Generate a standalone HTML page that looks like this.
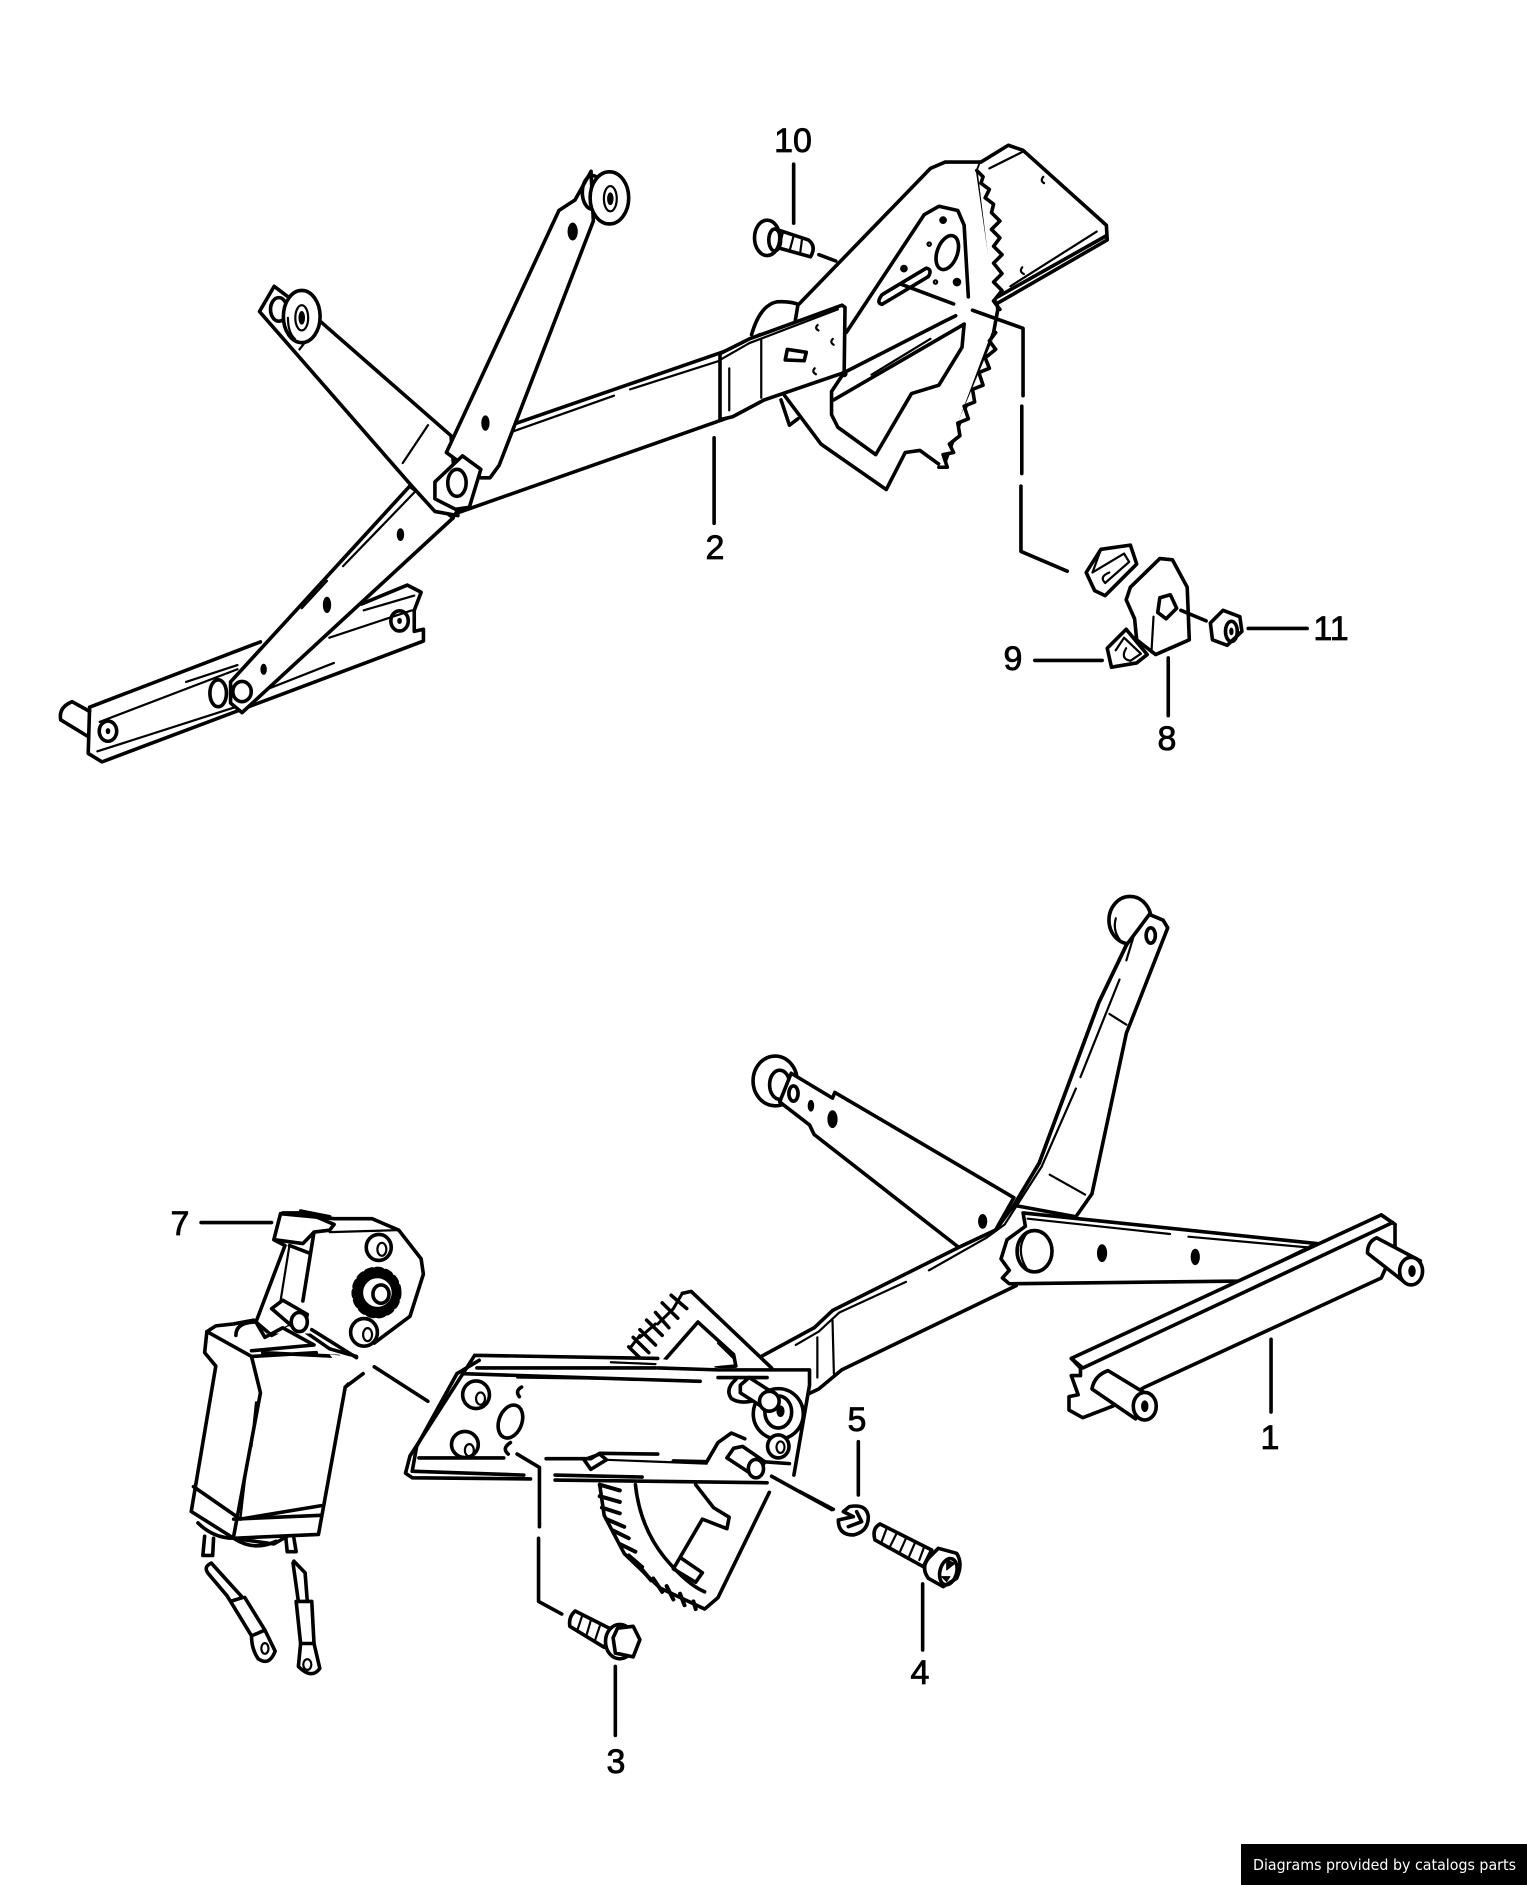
<!DOCTYPE html>
<html><head><meta charset="utf-8"><style>
html,body{margin:0;padding:0;background:#fff;width:1527px;height:1885px;overflow:hidden}
svg{display:block}
path,circle,ellipse,polygon{vector-effect:non-scaling-stroke;stroke:#000;stroke-width:3.6;fill:none;stroke-linejoin:round;stroke-linecap:round}
.f{fill:#fff}
.t{stroke-width:2.2}
.k{fill:#000;stroke-width:1}
text{font-family:"Liberation Sans",sans-serif;font-size:34px;fill:#000;stroke:#000;stroke-width:.8;text-anchor:middle}
</style></head><body>
<svg width="1527" height="1885" viewBox="0 0 1527 1885" xmlns="http://www.w3.org/2000/svg">
<rect width="1527" height="1885" fill="#fff"/>

<g transform="translate(40 120) scale(.4592 .4209)">
<path class="f" d="M108 1395L480 1240M700 1150L800 1105L830 1122L815 1165L815 1215L835 1210L835 1238L135 1525L105 1505L108 1395"/>
<path d="M108 1405L70 1382Q40 1395 45 1425L105 1465"/>
<path class="t" d="M130 1430L430 1305M125 1500L425 1395M318 1335L430 1295M705 1165L815 1130M630 1230L810 1165M500 1350L640 1290"/>
<ellipse cx="148" cy="1452" rx="19" ry="24"/><ellipse cx="783" cy="1190" rx="19" ry="24"/>
<ellipse class="k" cx="148" cy="1452" rx="4" ry="6"/><ellipse class="k" cx="783" cy="1190" rx="4" ry="6"/>
<ellipse cx="388" cy="1362" rx="18" ry="32"/>
<path class="f" d="M805 870L415 1335L415 1385L440 1408L900 945Z"/>
<path class="t" d="M815 885L660 1060M625 1095L570 1160"/>
<ellipse cx="440" cy="1358" rx="20" ry="24"/>
<ellipse class="k" cx="785" cy="985" rx="7" ry="14"/><ellipse class="k" cx="625" cy="1152" rx="8" ry="18"/><ellipse class="k" cx="487" cy="1305" rx="6" ry="12"/>
<path class="f" d="M510 395L478 455L810 870L860 930L910 940L895 750L610 478Z"/>
<path class="t" d="M845 725L790 815M565 545L590 510"/>
<ellipse cx="520" cy="450" rx="18" ry="28"/>
<ellipse class="f" cx="570" cy="467" rx="40" ry="62"/>
<ellipse class="t" cx="570" cy="470" rx="14" ry="30"/><ellipse class="k" cx="570" cy="470" rx="6" ry="15"/><path class="t" d="M540 470Q540 505 555 520"/>
<path class="f" d="M1025 725L1495 548L1568 510L1568 670L1505 705L905 935Z"/>
<path class="t" d="M1030 740L1250 655M1285 640L1500 565L1568 525M1502 575L1502 690"/>
<path class="f" d="M1200 122L1165 190L1130 215L885 790L960 850L980 850L1000 820L1205 240Z"/>
<ellipse cx="1203" cy="172" rx="22" ry="40"/>
<ellipse class="f" cx="1240" cy="185" rx="42" ry="62"/>
<ellipse class="t" cx="1242" cy="187" rx="14" ry="30"/><ellipse class="k" cx="1242" cy="187" rx="6" ry="14"/>
<ellipse class="k" cx="1160" cy="265" rx="10" ry="20"/><ellipse class="k" cx="970" cy="720" rx="8" ry="17"/>
<polygon class="f" points="920,798 960,830 935,920 905,925 860,900 860,860"/>
<ellipse cx="908" cy="862" rx="20" ry="32"/>
<path d="M1468 755L1468 958"/>
</g>

<g transform="translate(720 120) scale(.4209)">
<path d="M75 510Q95 440 135 432Q170 430 190 440"/>
<path class="f" d="M185 440L500 115L535 100L620 100L612 120L660 450L650 505L530 825L475 785L440 790L395 878L240 770L150 650Z"/>
<path class="f" d="M620 100L685 60L720 72L918 250L920 285L660 435L650 430L612 120Z" style="stroke:none"/>
<path d="M620 100L685 60L720 72L918 250L920 285L660 435L650 430"/>
<path class="t" d="M640 115L720 75M690 395L895 265"/>
<path d="M660 420L918 275"/>
<path d="M610 120L625 135L620 150L640 165L630 185L650 200L645 220L665 240L645 260L665 280L650 300L670 320L650 340L670 365L650 385L670 405L650 430L665 450"/>
<path class="f" d="M655 505L640 525L655 545L630 565L640 590L615 600L625 630L600 640L605 670L580 680L590 710L565 720L570 750L545 770L555 790L530 795L540 825L520 825"/>
<path class="t" d="M768 135Q760 145 770 150M718 350Q710 360 722 366"/>
<path d="M300 505L485 225L520 205L565 215L580 250L590 420"/>
<ellipse cx="540" cy="315" rx="24" ry="42" transform="rotate(20 540 315)"/>
<g><circle class="k" cx="530" cy="238" r="8"/><circle class="k" cx="563" cy="385" r="9"/><circle class="k" cx="437" cy="353" r="8"/><circle class="t" cx="497" cy="295" r="4"/><circle class="t" cx="512" cy="385" r="4"/></g>
<path d="M385 438L495 372Q505 355 490 352L385 415Q370 435 385 438Z"/>
<path d="M270 665L580 485M295 600L530 480L560 465"/>
<path class="t" d="M360 605L500 520"/>
<path d="M580 485L575 540L520 630L455 650L370 795L280 730L265 700L265 645L295 600"/>
<path d="M145 665L165 725L185 710"/>
<path class="f" d="M0 555L70 520L290 440L297 445L295 600L105 665L30 705L0 712Z"/>
<path class="t" d="M0 570L70 530L280 450"/>
<path class="t" d="M22 590L22 690M98 520L98 660"/>
<path d="M160 545L205 552L200 572L155 570Z"/>
<path class="t" d="M232 487Q224 495 234 500M268 520Q260 528 270 534M225 590Q217 598 228 604"/>
<circle class="k" cx="295" cy="603" r="7"/>
<path d="M430 390L555 437M600 452L720 495L720 655M717 680L717 840M715 870L715 1025L825 1072"/>
<path d="M175 105L175 245M235 320L275 335"/>
<path class="f" d="M128 258L210 285Q230 300 215 325L125 300Z"/>
<path class="t" d="M150 265L140 305M175 275L165 312M195 282L190 320"/>
<ellipse class="f" cx="112" cy="280" rx="30" ry="42"/><ellipse cx="130" cy="285" rx="14" ry="26"/>
<path class="f" d="M870 1075L905 1020L975 1010L990 1055L915 1130L890 1118Z"/>
<path class="t" d="M885 1075L960 1030L972 1050L915 1100Q900 1085 925 1075M905 1020L885 1075"/>
<path class="f" d="M920 1255L965 1210L1015 1270L990 1290L930 1300Z"/>
<path class="t" d="M940 1260L960 1230L1000 1268L975 1285Q950 1280 965 1255"/>
<path class="f" d="M975 1110L1045 1042L1075 1045L1110 1110L1115 1235L1035 1270L990 1235L985 1185L965 1140Z"/>
<path class="t" d="M1030 1180L1025 1265"/>
<polygon points="1045,1135 1070,1128 1085,1160 1060,1185 1040,1170"/>
<path d="M1095 1165L1155 1190M1255 1208L1395 1208M748 1284L908 1284M1065 1278L1065 1415"/>
<polygon class="f" points="1165,1195 1195,1165 1235,1180 1240,1215 1205,1248 1170,1235"/>
<ellipse cx="1215" cy="1215" rx="14" ry="24"/><ellipse class="k" cx="1215" cy="1215" rx="4" ry="8"/>
</g>

<g transform="translate(720 880) scale(.4592 .3827)">
<ellipse class="f" cx="893" cy="105" rx="46" ry="62"/>
<path class="t" d="M862 100Q855 130 870 155"/>
<path class="f" d="M885 170L935 90L965 105L975 125L895 370L885 400L810 820L775 880L640 850L695 740L825 320Z"/>
<path class="t" d="M900 150L885 210M870 260L785 515M775 545L700 750"/>
<path class="t" d="M848 350L885 378M718 770L795 822"/>
<ellipse cx="938" cy="145" rx="10" ry="20"/>
<ellipse class="f" cx="120" cy="525" rx="48" ry="65"/><ellipse cx="130" cy="535" rx="22" ry="38"/>
<path class="f" d="M155 505L245 570L250 555L640 830L600 915L520 960L205 665L195 640L130 580Z"/>
<ellipse cx="160" cy="558" rx="10" ry="20"/><ellipse class="k" cx="198" cy="590" rx="6" ry="14"/><ellipse class="k" cx="245" cy="625" rx="10" ry="22"/>
<ellipse class="k" cx="572" cy="892" rx="9" ry="18"/>
<path class="f" d="M640 850L600 915L520 960L245 1125L205 1170L90 1245L180 1350L215 1330L265 1280L645 1060Z" style="stroke:none"/>
<path d="M885 170L825 320L695 740L640 850L600 915L520 960L245 1125L205 1170L90 1245"/>
<path class="t" d="M700 750L620 900L580 935L455 1020M405 1050L260 1130L215 1180L165 1215M245 1150L248 1290M212 1195L212 1300"/>
<path d="M645 1060L265 1280L215 1330L180 1350"/>
<path class="f" d="M660 870L1300 950L1135 1048L630 1055L615 1040L630 1020L612 990L625 940L665 905Z"/>
<path class="t" d="M670 885L980 925M1020 932L1280 960"/>
<ellipse cx="685" cy="970" rx="38" ry="54"/><path class="t" d="M670 920Q640 965 670 1020"/>
<ellipse class="k" cx="832" cy="975" rx="10" ry="22"/><ellipse class="k" cx="1035" cy="985" rx="9" ry="20"/>
<path class="f" d="M765 1250L1440 875L1470 900L1470 960L1440 1040L925 1325L855 1375L790 1405L760 1385L760 1350L780 1345L765 1295L785 1295L785 1275Z"/>
<path d="M1440 875L1470 900M765 1250L790 1275L1465 895"/>
<path class="t" d="M790 1275L1130 1085M1165 1062L1465 895"/>
<path class="f" d="M1430 935L1525 995L1490 1050L1410 975Q1410 945 1430 935Z"/>
<ellipse class="f" cx="1505" cy="1022" rx="25" ry="36"/><ellipse class="k" cx="1507" cy="1022" rx="7" ry="14"/>
<path class="f" d="M845 1282L945 1355L905 1408L810 1330Q815 1295 845 1282Z"/>
<ellipse class="f" cx="925" cy="1375" rx="25" ry="36"/><ellipse class="k" cx="925" cy="1375" rx="7" ry="14"/>
<path d="M1200 1200L1200 1390"/>
</g>

<g transform="translate(160 1190) scale(.4464 .3827)">
<path class="f" d="M270 62L390 75L475 75L535 105L585 180L590 220L560 330L480 400"/>
<path d="M270 62L255 130L280 145L215 345M345 110L320 290M290 145L335 165M275 60L330 60L390 90L380 105L345 110L320 140L258 130M315 55L380 70"/>
<path class="t" d="M380 110L530 105M290 145L270 290"/>
<ellipse cx="490" cy="150" rx="28" ry="34"/><ellipse class="t" cx="497" cy="155" rx="10" ry="17"/>
<ellipse cx="457" cy="372" rx="30" ry="36"/><ellipse class="t" cx="465" cy="378" rx="10" ry="17"/>
<ellipse cx="485" cy="268" rx="46" ry="56" stroke-dasharray="4 5" style="stroke-width:9"/>
<ellipse class="f" cx="487" cy="268" rx="36" ry="42"/>
<ellipse cx="495" cy="272" rx="18" ry="24"/>
<path class="f" d="M105 370L125 355L165 350L210 340L250 380L300 350L380 415L440 435L445 480L415 515L355 900L165 910L70 840L125 460L100 425Z"/>
<path d="M105 370L205 435L225 530L165 905M205 435L350 425M75 775L180 860L360 825M165 860L360 850M230 425L400 435"/>
<path class="f" d="M165 375Q170 345 210 345L240 380L300 350L345 375Z" style="stroke:none"/>
<path d="M170 380Q170 345 215 345L235 385L275 360L345 405L205 420"/>
<path class="t" d="M215 555L205 670M195 710L180 860"/>
<path class="f" d="M250 310L275 288L330 325L320 368L295 355Z"/>
<ellipse class="f" cx="312" cy="345" rx="18" ry="25"/>
<path class="f" style="stroke:none" d="M380 430L470 440L470 520L430 520L400 460Z"/>
<path d="M340 365L440 438M415 515L455 480M480 462L600 552"/>
<path d="M85 870Q120 910 165 910L255 925L285 905M165 910Q210 945 260 918"/>
<path d="M100 905L96 955L118 955L120 910M282 910L285 945L305 945L300 910"/>
<path d="M115 975Q95 985 110 1005L150 1060L158 1075L185 1065L150 1020L115 975M158 1075L205 1165L235 1150L190 1065"/>
<path d="M205 1165Q205 1200 220 1225Q245 1245 258 1205L235 1150"/>
<ellipse class="t" cx="235" cy="1198" rx="8" ry="14"/>
<path d="M300 970L325 1000L330 1075M298 975L310 1075"/>
<path d="M305 1075L340 1075L345 1185L315 1185Z"/>
<path d="M315 1185L310 1245Q340 1280 358 1250L345 1185"/>
<ellipse class="t" cx="330" cy="1240" rx="9" ry="14"/>
<path d="M92 85L250 85"/>

<path class="f" style="stroke:none" d="M1000 760L1360 770L1365 790L1250 1065L1225 1100L1120 1040L1040 950Z"/>
<path d="M985 770L995 850L1040 950L1120 1040L1220 1095L1250 1065L1365 790"/>
<path d="M985 770L1030 785M985 800L1030 815M990 830L1030 845M1000 860L1040 880M1015 890L1050 910M1030 925L1065 945M1050 955L1080 985M1075 985L1100 1020M1105 1015L1125 1050M1135 1035L1150 1070M1165 1055L1175 1085M1195 1075L1200 1095" style="stroke-width:4"/>
<path d="M1065 770Q1075 880 1130 960Q1180 1030 1220 1050"/>
<path d="M1200 770L1240 830L1275 855L1270 885L1215 860L1165 960L1215 1000L1200 1025L1150 990L1165 960"/>
<path d="M1055 410L1075 380M1075 385L1110 350M1115 350L1150 310M1150 310L1170 270" style="stroke-width:3"/>
<path d="M1050 410L1085 450M1060 385L1095 425M1075 365L1110 405M1090 340L1125 380M1110 320L1140 360M1125 295L1160 335M1145 275L1180 310" style="stroke-width:3.5"/>
<path d="M1170 270L1190 265L1370 465M1115 465L1205 345L1285 430L1290 460L1245 465L1245 490"/>
<path class="t" d="M1250 400L1285 440"/>
<path class="f" d="M705 432L1115 440L1250 465L1455 470L1455 510L1420 745L1360 765L885 758L830 755L565 752L550 740L560 695Z" style="stroke:none"/>
<path d="M705 432L1115 440M1115 465L1250 470L1455 470L1455 510L1420 745M705 432L560 695L550 740L565 752L830 755M885 758L1360 765"/>
<path d="M715 445L665 480L575 670L565 735M680 480L1210 500M710 465L1110 465"/>
<path class="t" d="M1010 450L1110 455M800 490L1100 495"/>
<path d="M580 700L770 700M570 735L815 745M885 745L1080 750"/>
<path d="M865 702L965 702L985 688L1115 690M1150 708L1225 710L1250 660L1280 635L1310 650"/>
<polygon points="950,705 985,690 1000,705 965,730"/>
<path class="t" d="M1000 705L1225 715"/>
<path d="M1250 490L1360 490M1350 710L1410 715"/>
<path d="M1290 495Q1265 520 1280 545Q1300 560 1330 550"/>
<ellipse cx="708" cy="535" rx="30" ry="36"/><ellipse class="t" cx="718" cy="545" rx="10" ry="16"/>
<ellipse cx="683" cy="665" rx="30" ry="34"/><ellipse class="t" cx="693" cy="680" rx="10" ry="16"/>
<ellipse cx="785" cy="605" rx="26" ry="44" transform="rotate(15 785 605)"/>
<path d="M810 515Q795 525 805 540M785 660Q765 675 780 690"/>
<ellipse class="f" cx="1385" cy="585" rx="56" ry="66"/><ellipse cx="1385" cy="580" rx="30" ry="42"/><ellipse class="k" cx="1390" cy="578" rx="8" ry="14"/>
<path class="f" d="M1300 510L1320 490L1380 535L1360 575L1300 530Z"/><ellipse class="f" cx="1365" cy="552" rx="22" ry="26"/>
<ellipse class="f" cx="1385" cy="670" rx="24" ry="30"/><ellipse class="t" cx="1390" cy="672" rx="9" ry="15"/>
<path class="f" d="M1285 675L1305 670L1355 710L1335 750L1270 700Z"/><ellipse class="f" cx="1335" cy="728" rx="17" ry="24"/>
<path d="M800 690L850 725L850 880M848 910L848 1075L900 1108M1370 748L1505 835"/>
<path class="f" d="M930 1100L1015 1150L995 1195L918 1140Q915 1115 930 1100Z"/>
<path class="t" d="M945 1115L935 1150M965 1125L955 1165M985 1140L975 1175"/>
<ellipse class="f" cx="1030" cy="1180" rx="32" ry="45"/>
<polygon class="f" points="1025,1145 1060,1140 1075,1175 1060,1220 1020,1210 1015,1170"/>
<path d="M1020 1245L1020 1425"/>
</g>

<g transform="translate(800 1400) scale(.3333)">
<path d="M175 125L175 285M0 275L100 328M368 552L368 750"/>
<path d="M148 320Q200 310 205 350Q205 395 160 405Q115 405 115 360L160 350L130 335Z"/>
<path d="M145 380L185 365L170 335"/>
<path class="f" d="M240 372L395 450L370 500L225 420Q215 385 240 372Z"/>
<path class="t" d="M260 385L245 425M290 400L270 440M318 415L300 455M345 428L328 468M372 442L358 480"/>
<path class="f" d="M415 445L470 460Q490 490 470 535L430 560L385 535Q360 500 390 470Z"/>
<ellipse cx="445" cy="515" rx="25" ry="40" transform="rotate(15 445 515)"/>
<polygon class="k" points="440,480 465,490 440,510"/><polygon class="k" points="425,530 450,530 440,545"/>
</g>

<text x="793" y="152">10</text>
<text x="715" y="559">2</text>
<text x="1331" y="640">11</text>
<text x="1013" y="670">9</text>
<text x="1167" y="750">8</text>
<text x="180" y="1235">7</text>
<text x="857" y="1431">5</text>
<text x="1270" y="1449">1</text>
<text x="920" y="1684">4</text>
<text x="616" y="1773">3</text>

<rect x="1241" y="1844" width="286" height="41" fill="#000"/>
<text x="1253" y="1870" style="font-size:15px;fill:#fff;stroke:none;text-anchor:start;font-family:'DejaVu Sans',sans-serif" textLength="263" lengthAdjust="spacingAndGlyphs">Diagrams provided by catalogs parts</text>
</svg>
</body></html>
